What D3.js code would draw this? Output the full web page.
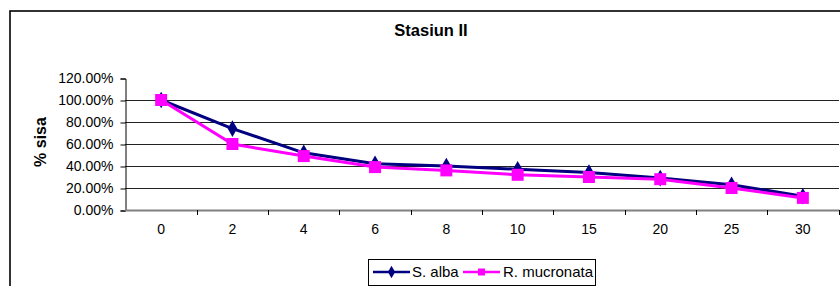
<!DOCTYPE html>
<html>
<head>
<meta charset="UTF-8">
<title>Stasiun II</title>
<script src="https://d3js.org/d3.v7.min.js"></script>
<style>
  body { margin: 0; background: #fff; }
  text { font-family: "Liberation Sans", Arial, sans-serif; fill: #000; }
</style>
</head>
<body>
<svg id="chart"></svg>
<script>
    // data
    var categories = ["0", "2", "4", "6", "8", "10", "15", "20", "25", "30"];
    var sAlba = [1.00, 0.74, 0.52, 0.42, 0.40, 0.37, 0.34, 0.29, 0.23, 0.125];
    var rMucronata = [1.00, 0.60, 0.49, 0.39, 0.36, 0.32, 0.30, 0.28, 0.20, 0.11];
    var yTicks = [0, 0.2, 0.4, 0.6, 0.8, 1.0, 1.2];
    var seriesNames = ["S. alba", "R. mucronata"];

    var width = 840, height = 286;
    var svg = d3.select("#chart").attr("width", width).attr("height", height);

    // outer chart border (right and bottom are off the page)
    svg.append("rect")
        .attr("x", 10).attr("y", 11)
        .attr("width", 900).attr("height", 400)
        .attr("fill", "none").attr("stroke", "#000").attr("stroke-width", 1.6);

    var x = d3.scaleBand().domain(categories).range([125.5, 838.5]);
    var y = d3.scaleLinear().domain([0, 1.2]).range([210, 78]);
    function cx(c) { return x(c) + x.bandwidth() / 2; }

    // title
    svg.append("text")
        .attr("x", 431).attr("y", 36)
        .attr("text-anchor", "middle")
        .style("font-size", "16.5px").style("font-weight", "bold")
        .text("Stasiun II");

    // y axis title
    svg.append("text")
        .attr("transform", "translate(46,142) rotate(-90)")
        .attr("text-anchor", "middle")
        .style("font-size", "16px").style("font-weight", "bold")
        .text("% sisa");

    // gridlines
    svg.append("g").selectAll("line")
        .data(yTicks.filter(function(d) { return d > 0 && d < 1.2; }))
        .enter().append("line")
        .attr("x1", 125).attr("x2", 839)
        .attr("y1", function(d) { return Math.round(y(d)) + 0.5; })
        .attr("y2", function(d) { return Math.round(y(d)) + 0.5; })
        .attr("stroke", "#222").attr("stroke-width", 1);

    // y axis
    var yAxis = d3.axisLeft(y)
        .tickValues(yTicks)
        .tickSize(5)
        .tickPadding(7)
        .tickFormat(d3.format(".2%"));
    var gy = svg.append("g").attr("transform", "translate(125.5,0.5)").call(yAxis);
    gy.select(".domain").attr("stroke", "#000");
    gy.selectAll("line").attr("stroke", "#000");
    gy.selectAll("text").style("font-size", "14px").style("font-family", "Liberation Sans, Arial, sans-serif");

    // x axis (labels centred, ticks between categories)
    var xAxis = d3.axisBottom(x).tickSize(0).tickPadding(14);
    var gx = svg.append("g").attr("transform", "translate(0,210)").call(xAxis);
    gx.select(".domain").remove();
    gx.selectAll("text").style("font-size", "14px").style("font-family", "Liberation Sans, Arial, sans-serif");

    svg.append("line")
        .attr("x1", 125).attr("x2", 839.5)
        .attr("y1", 210.5).attr("y2", 210.5)
        .attr("stroke", "#808080").attr("stroke-width", 2);
    svg.append("g").selectAll("line")
        .data(categories.slice(1).map(function(c) { return x(c); }).concat([x.range()[1]]))
        .enter().append("line")
        .attr("x1", function(d) { return Math.round(d) + 0.5; })
        .attr("x2", function(d) { return Math.round(d) + 0.5; })
        .attr("y1", 210).attr("y2", 215)
        .attr("stroke", "#000");

    var line = d3.line()
        .x(function(d, i) { return cx(categories[i]); })
        .y(function(d) { return y(d); });

    var diamond = d3.symbol().type(d3.symbolDiamond);
    var square = d3.symbol().type(d3.symbolSquare);

    // S. alba
    svg.append("path").datum(sAlba)
        .attr("d", line).attr("fill", "none")
        .attr("stroke", "#000080").attr("stroke-width", 3);
    svg.append("g").selectAll("path")
        .data(sAlba).enter().append("path")
        .attr("transform", function(d, i) { return "translate(" + cx(categories[i]) + "," + y(d) + ")"; })
        .attr("d", diamond.size(80))
        .attr("fill", "#000080");

    // R. mucronata
    svg.append("path").datum(rMucronata)
        .attr("d", line).attr("fill", "none")
        .attr("stroke", "#FF00FF").attr("stroke-width", 3);
    svg.append("g").selectAll("path")
        .data(rMucronata).enter().append("path")
        .attr("transform", function(d, i) { return "translate(" + cx(categories[i]) + "," + y(d) + ")"; })
        .attr("d", square.size(144))
        .attr("fill", "#FF00FF");

    // legend
    var legend = svg.append("g");
    legend.append("rect")
        .attr("x", 368.5).attr("y", 259.5)
        .attr("width", 227).attr("height", 26)
        .attr("fill", "#fff").attr("stroke", "#000");
    var items = [
        { name: seriesNames[0], color: "#000080", sym: diamond.size(45), x0: 373, tx: 412 },
        { name: seriesNames[1], color: "#FF00FF", sym: square.size(49), x0: 463, tx: 503 }
    ];
    items.forEach(function(it) {
        legend.append("line")
            .attr("x1", it.x0).attr("x2", it.x0 + 37)
            .attr("y1", 272).attr("y2", 272)
            .attr("stroke", it.color).attr("stroke-width", 2.5);
        legend.append("path")
            .attr("transform", "translate(" + (it.x0 + 18.5) + ",272)")
            .attr("d", it.sym).attr("fill", it.color);
        legend.append("text")
            .attr("x", it.tx).attr("y", 277)
            .style("font-size", "15px")
            .text(it.name);
    });
</script>
</body>
</html>
